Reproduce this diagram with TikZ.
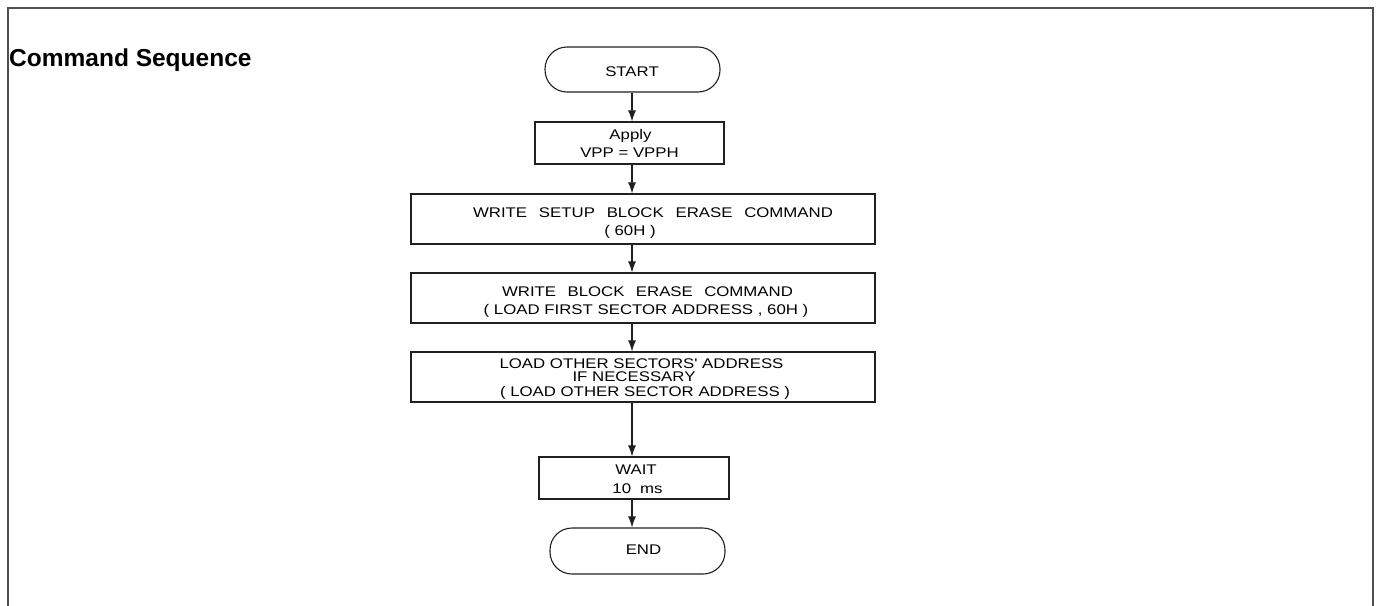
\documentclass[tikz,border=0pt]{standalone}
\usepackage{fontspec}
\setmainfont{Liberation Sans}
\newfontfamily\flowfont[FakeStretch=1.2]{Liberation Sans}
\usetikzlibrary{arrows.meta}
\definecolor{framegray}{HTML}{505050}
\definecolor{linecol}{HTML}{202020}
\begin{document}
\begin{tikzpicture}[x=1pt,y=-1pt,
  box/.style={draw=linecol, line width=1.1pt, inner sep=0pt, anchor=center},
  term/.style={box, rounded corners=22pt},
  txt/.style={font=\flowfont\fontsize{14}{16}\selectfont, inner sep=0pt, text height=10pt, text depth=0pt, anchor=center},
  arr/.style={draw=linecol, line width=1.1pt, -{Latex[length=11pt,width=8pt]}},
  frame/.style={draw=framegray, line width=2pt}]
\useasboundingbox (0,0) rectangle (1380,605);
% outer frame
\draw[frame] (8,606) -- (8,8) -- (1373,8) -- (1373,606);
% heading
\node[font=\bfseries\fontsize{24.5}{28}\selectfont, inner sep=0pt, anchor=base west] (title) at (9,66) {Command Sequence};
% boxes
\node[term, minimum width=175pt, minimum height=45pt] (start) at (632.5,69.5) {};
\node[box, minimum width=189pt, minimum height=42pt] (apply) at (629.5,143) {};
\node[box, minimum width=464pt, minimum height=50pt] (setup) at (643,219) {};
\node[box, minimum width=464pt, minimum height=50pt] (erase) at (643,298) {};
\node[box, minimum width=464pt, minimum height=50pt] (load) at (643,377) {};
\node[box, minimum width=190pt, minimum height=42pt] (wait) at (634,478) {};
\node[term, minimum width=175pt, minimum height=46pt] (end) at (637.5,551) {};
% texts
\node[txt] (startT) at (632,71.5) {START};
\node[txt] (applyT1) at (630.5,134) {Apply};
\node[txt] (applyT2) at (629.5,152) {VPP = VPPH};
\node[txt] (setupT1) at (653,212) {WRITE\hspace{11.8pt}SETUP\hspace{11.8pt}BLOCK\hspace{11.8pt}ERASE\hspace{11.8pt}COMMAND};
\node[txt] (setupT2) at (630,230) {( 60H )};
\node[txt] (eraseT1) at (647.5,291.5) {WRITE\hspace{11.4pt}BLOCK\hspace{11.4pt}ERASE\hspace{11.4pt}COMMAND};
\node[txt] (eraseT2) at (646,309) {( LOAD FIRST SECTOR ADDRESS , 60H )};
\node[txt] (loadT1) at (641.5,363.5) {LOAD OTHER SECTORS' ADDRESS};
\node[txt] (loadT2) at (634,376) {IF NECESSARY};
\node[txt] (loadT3) at (645,391) {( LOAD OTHER SECTOR ADDRESS )};
\node[txt] (waitT1) at (636,469) {WAIT};
\node[txt] (waitT2) at (637.5,488) {10\hspace{9pt}ms};
\node[txt] (endT) at (643.5,549.5) {END};
% connectors
\coordinate (col) at (632,0);
\draw[arr] (col |- start.south) -- (col |- apply.north);
\draw[arr] (col |- apply.south) -- (col |- setup.north);
\draw[arr] (col |- setup.south) -- (col |- erase.north);
\draw[arr] (col |- erase.south) -- (col |- load.north);
\draw[arr] (col |- load.south) -- (col |- wait.north);
\draw[arr] (col |- wait.south) -- (col |- end.north);
\end{tikzpicture}
\end{document}
